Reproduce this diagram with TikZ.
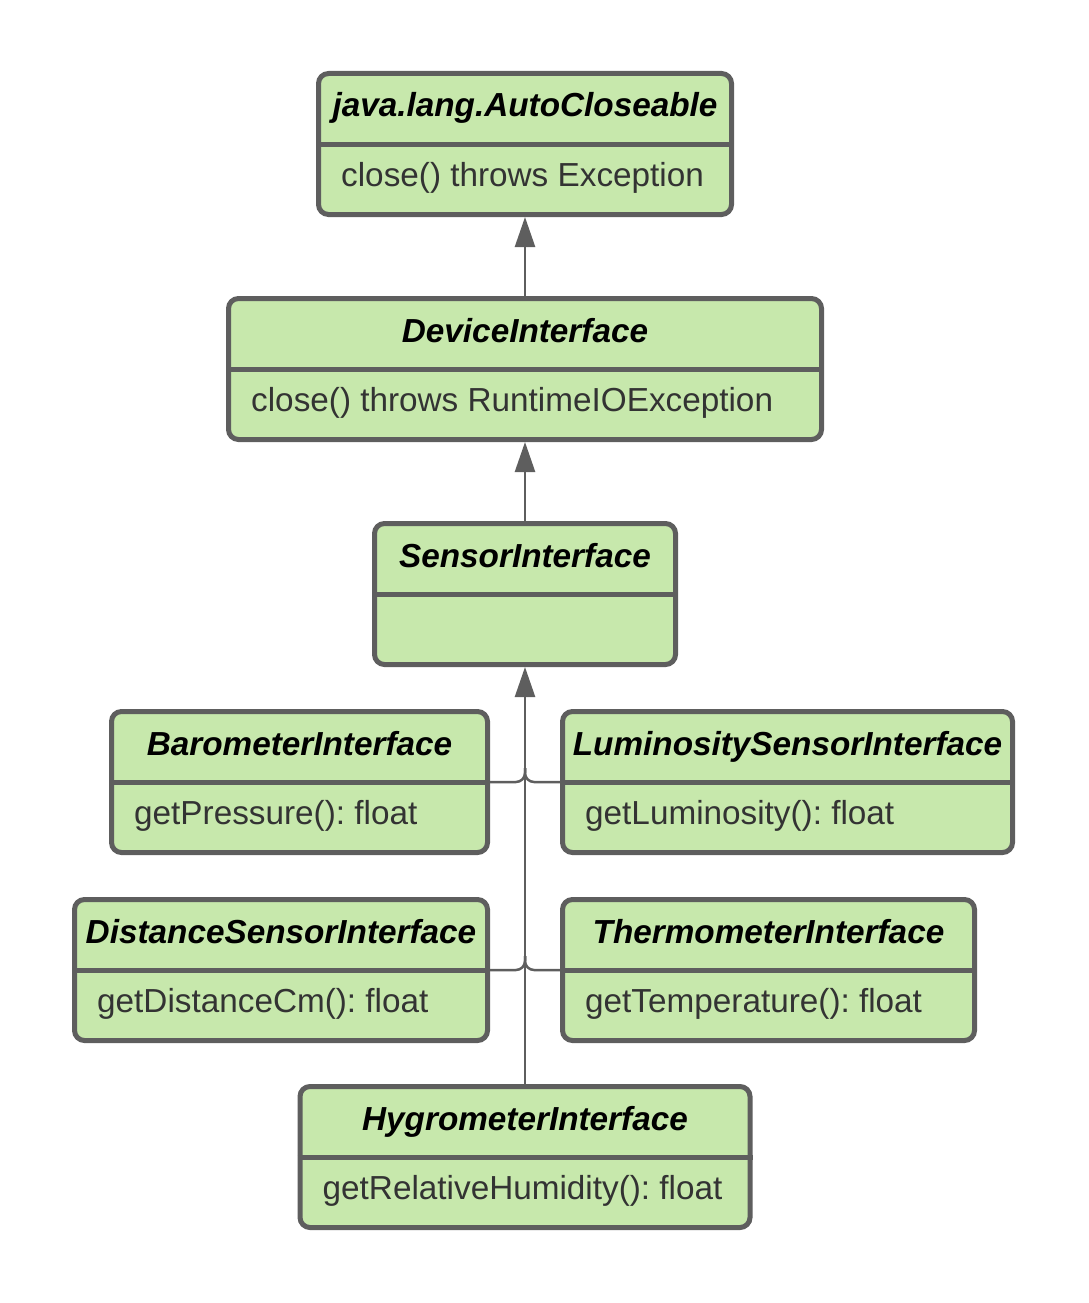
\documentclass[tikz,border=0pt]{standalone}
\usepackage{fontspec}
\setmainfont{Liberation Sans}
\usetikzlibrary{positioning}
\usetikzlibrary{arrows.meta}
\definecolor{classfill}{HTML}{C7E8AC}
\definecolor{classline}{HTML}{5E5E5E}
\definecolor{methodtext}{HTML}{333333}
\frenchspacing
\tikzstyle{classbox}=[draw=classline,fill=classfill,line width=5pt,rounded corners=10pt,minimum height=141pt,inner sep=0pt]
\tikzstyle{divider}=[draw=classline,line width=5pt]
\tikzstyle{title}=[font=\fontsize{33.3}{40}\selectfont\bfseries\itshape,inner sep=0pt,anchor=base]
\tikzstyle{method}=[font=\fontsize{33.3}{40}\selectfont,text=methodtext,inner sep=0pt,anchor=base west]
\tikzstyle{edge}=[draw=classline,line width=2.5pt,-{Triangle[length=30pt,width=20pt]}]
\tikzstyle{joinedge}=[draw=classline,line width=2.5pt,rounded corners=9pt]

\begin{document}
\begin{tikzpicture}[x=1pt,y=-1pt]
    \useasboundingbox (0,0) rectangle (1088,1303);
    % First we draw the classes
    \foreach \pos/\w/\name/\title/\meth in {{(525,144)/413/auto/java.lang.AutoCloseable/close() throws Exception}, {(525,369)/593/device/DeviceInterface/close() throws RuntimeIOException}, {(525,594)/301/sensor/SensorInterface/{}}, {(299.5,782)/376/baro/BarometerInterface/getPressure(): float}, {(787.5,782)/450/lumi/LuminositySensorInterface/getLuminosity(): float}, {(281,970)/413/dist/DistanceSensorInterface/getDistanceCm(): float}, {(768.5,970)/412/thermo/ThermometerInterface/getTemperature(): float}, {(525,1157)/450/hygro/HygrometerInterface/getRelativeHumidity(): float}}
    {
        \node[classbox, minimum width=\w] (\name) at \pos {};
        \path[divider] (\name.west) -- (\name.east);
        \node[title] (\name-title) at ([yshift=27pt]\name.center) {\title};
        \node[method] (\name-meth) at ([xshift=25pt,yshift=-42pt]\name.west) {\meth};
    }

    % Connect the classes
    \foreach \source/\dest in {device/auto, sensor/device, hygro/sensor}
        \path[edge] (\source.north) -- (\dest.south);
    \foreach \source/\side in {baro/east, lumi/west, dist/east, thermo/west}
        \path[joinedge] (\source.\side) -| ([yshift=14pt]\source.\side -| sensor.south);
\end{tikzpicture}
\end{document}
